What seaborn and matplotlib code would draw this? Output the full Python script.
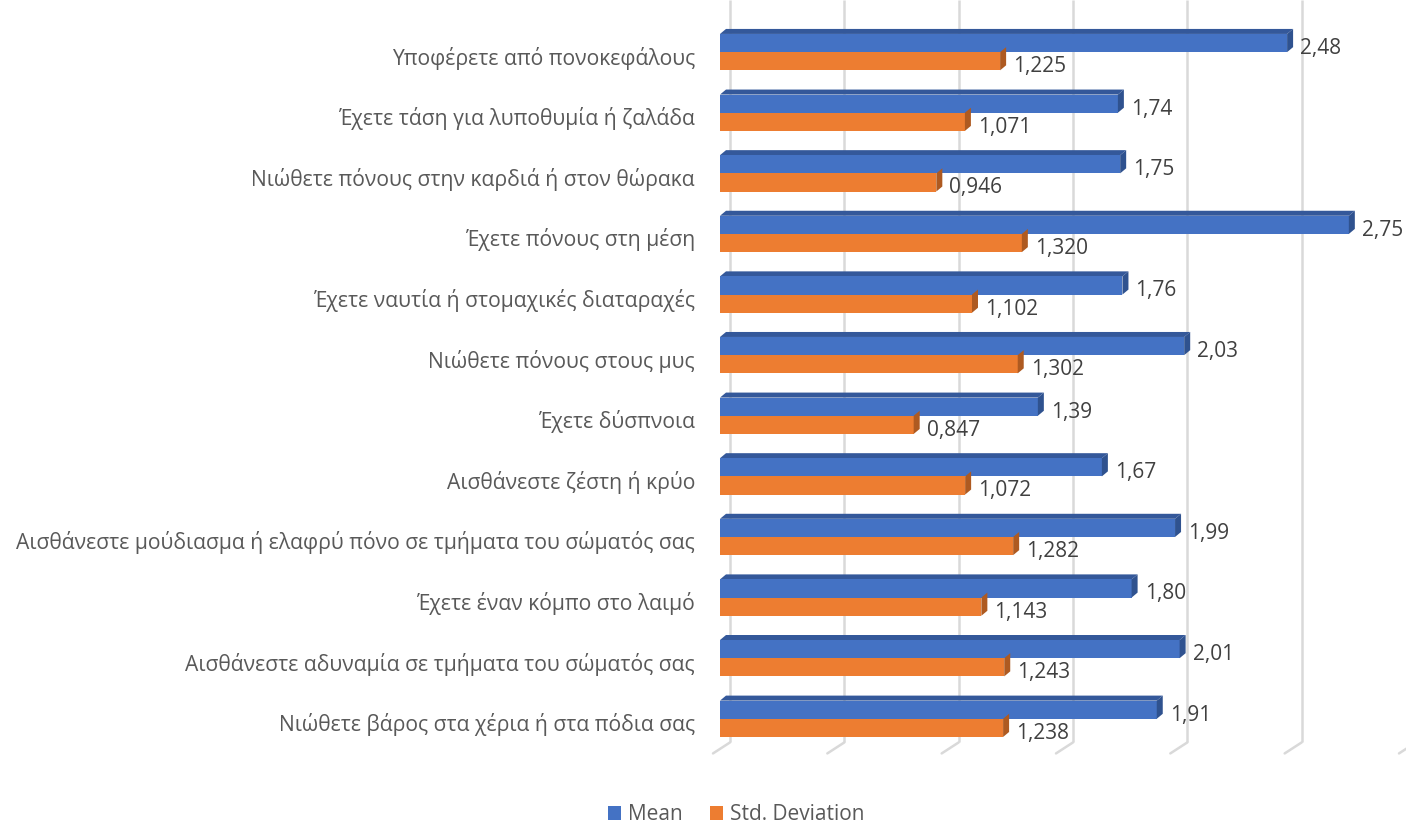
import matplotlib
matplotlib.use("Agg")
import matplotlib.pyplot as plt
import matplotlib.transforms as mtransforms
from matplotlib.patches import Polygon, Patch
import seaborn as sns
import pandas as pd

categories = [
    "Υποφέρετε από πονοκεφάλους",
    "Έχετε τάση για λυποθυμία ή ζαλάδα",
    "Νιώθετε πόνους στην καρδιά ή στον θώρακα",
    "Έχετε πόνους στη μέση",
    "Έχετε ναυτία ή στομαχικές διαταραχές",
    "Νιώθετε πόνους στους μυς",
    "Έχετε δύσπνοια",
    "Αισθάνεστε ζέστη ή κρύο",
    "Αισθάνεστε μούδιασμα ή ελαφρύ πόνο σε τμήματα του σώματός σας",
    "Έχετε έναν κόμπο στο λαιμό",
    "Αισθάνεστε αδυναμία σε τμήματα του σώματός σας",
    "Νιώθετε βάρος στα χέρια ή στα πόδια σας",
]
mean_values = [2.48, 1.74, 1.75, 2.75, 1.76, 2.03, 1.39, 1.67, 1.99, 1.80, 2.01, 1.91]
std_values = [1.225, 1.071, 0.946, 1.320, 1.102, 1.302, 0.847, 1.072, 1.282, 1.143, 1.243, 1.238]
series_names = ["Mean", "Std. Deviation"]
x_ticks = [0, 0.5, 1.0, 1.5, 2.0, 2.5, 3.0]

front_colors = {"Mean": "#4472C4", "Std. Deviation": "#ED7D31"}
side_colors = {"Mean": "#2F528F", "Std. Deviation": "#AE5A21"}
top_colors = {"Mean": "#34589A", "Std. Deviation": "#C9682A"}
decimals = {"Mean": 2, "Std. Deviation": 3}

df = pd.DataFrame({
    "category": categories * 2,
    "value": mean_values + std_values,
    "series": [series_names[0]] * len(categories) + [series_names[1]] * len(categories),
})

sns.set_theme(style="white")
plt.rcParams["font.family"] = ["Open Sans", "DejaVu Sans"]

W, H, DPI = 14.06, 8.23, 100
fig = plt.figure(figsize=(W, H), dpi=DPI)
ax_left_px, ax_right_px = 720, 1406
ax_top_px, ax_bottom_px = 0, 760
ax = fig.add_axes([ax_left_px / 1406, 1 - ax_bottom_px / 823,
                   (ax_right_px - ax_left_px) / 1406, (ax_bottom_px - ax_top_px) / 823])

sns.barplot(data=df, y="category", x="value", hue="series", orient="h",
            palette=front_colors, width=0.6, dodge=True, ax=ax,
            saturation=1, legend=False, zorder=3)

xmin, xmax = 0, 3.0
ymin_top, ymax_bottom = -0.86, 11.68
ax.set_xlim(xmin, xmax)
ax.set_ylim(ymax_bottom, ymin_top)

# pixel -> data unit conversions
px_x = (ax_right_px - ax_left_px) / (xmax - xmin)
px_y = (ax_bottom_px - ax_top_px) / (ymax_bottom - ymin_top)
dx = 6 / px_x
dy = 5 / px_y

# back-wall gridlines with a short floor segment
grid_off = 10 / px_x
grid_bottom = 11.39
for v in x_ticks:
    gx = v + grid_off
    ax.plot([gx, gx], [ymin_top, grid_bottom], color="#D9D9D9", lw=1.8,
            zorder=1, solid_capstyle="butt", clip_on=False)
    ax.plot([gx, gx - 17 / px_x], [grid_bottom, grid_bottom + 11 / px_y],
            color="#D9D9D9", lw=1.8, zorder=1, clip_on=False)

# 3-D faces, end caps and value labels
n = len(categories)
for i, patch in enumerate(ax.patches[:2 * n]):
    s = series_names[i // n]
    x0 = patch.get_x()
    y0 = patch.get_y()
    w = patch.get_width()
    h = patch.get_height()
    patch.set_edgecolor("none")
    top = Polygon([(x0, y0), (x0 + w, y0), (x0 + w + dx, y0 - dy), (x0 + dx, y0 - dy)],
                  closed=True, facecolor=top_colors[s], edgecolor="none", zorder=2.9)
    side = Polygon([(x0 + w, y0), (x0 + w + dx, y0 - dy), (x0 + w + dx, y0 + h - dy),
                    (x0 + w, y0 + h)],
                   closed=True, facecolor=side_colors[s], edgecolor="none", zorder=3.1)
    ax.add_patch(top)
    ax.add_patch(side)
    label = f"{w:.{decimals[s]}f}".replace(".", ",")
    ax.text(x0 + w + 13 / px_x, y0 + h / 2 + 5.5 / px_y, label, ha="left", va="center",
            fontsize=15, color="#404040", zorder=5)

ax.set_xticks([])
ax.set_xlabel("")
ax.set_ylabel("")
ax.tick_params(axis="y", length=0, pad=18, labelsize=15.2, labelcolor="#595959")
shift_down = mtransforms.ScaledTranslation(0, -2.5 / 72, fig.dpi_scale_trans)
for lbl in ax.get_yticklabels():
    lbl.set_transform(lbl.get_transform() + shift_down)
for sp in ax.spines.values():
    sp.set_visible(False)
ax.set_facecolor("none")

handles = [Patch(facecolor=front_colors[s], edgecolor="none", label=s) for s in series_names]
fig.legend(handles=handles, loc="center", bbox_to_anchor=(736 / 1406, 1 - 815 / 823), ncol=2,
           frameon=False, fontsize=15, handlelength=0.62, handleheight=0.62,
           handletextpad=0.35, columnspacing=1.3, labelcolor="#595959")

fig.savefig("out.png", dpi=DPI)
